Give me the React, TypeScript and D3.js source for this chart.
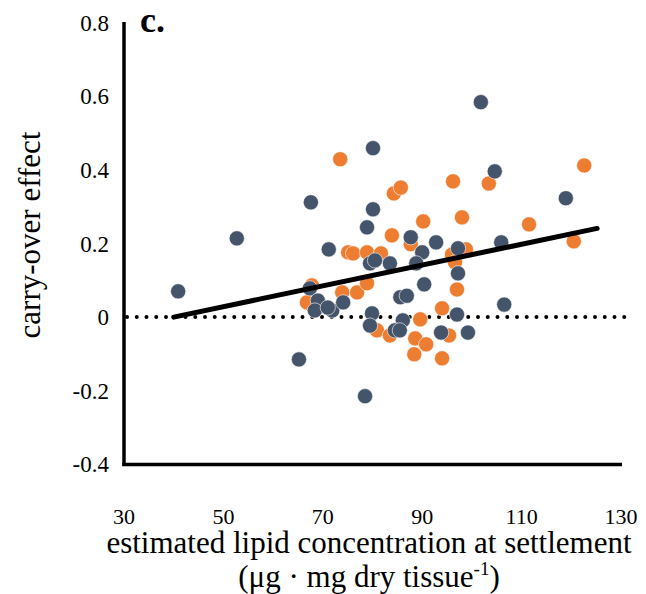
import React from "react";
import * as d3 from "d3";

const xTicks = [30, 50, 70, 90, 110, 130];
const yTicks = [-0.4, -0.2, 0, 0.2, 0.4, 0.6, 0.8];

// orange series [lipid, carry-over effect]
const orangeX = [73.5, 84.3, 85.7, 96.2, 103.4, 122.6, 90.2, 98.0, 111.5, 120.5, 83.9, 87.7, 98.8, 96.0, 96.6, 97.0, 94.0, 89.6, 75.1, 76.1, 78.9, 81.7, 67.8, 66.8, 76.9, 78.9, 73.9, 80.9, 83.5, 88.6, 90.8, 88.4, 94.0, 95.4];
const orangeY = [0.429, 0.336, 0.352, 0.369, 0.363, 0.412, 0.26, 0.271, 0.252, 0.206, 0.222, 0.198, 0.184, 0.17, 0.149, 0.075, 0.024, -0.006, 0.176, 0.173, 0.176, 0.173, 0.086, 0.04, 0.067, 0.092, 0.067, -0.036, -0.05, -0.058, -0.074, -0.101, -0.112, -0.05];

// blue series
const blueX = [40.9, 52.7, 65.2, 67.6, 80.1, 80.1, 78.9, 71.2, 78.5, 101.8, 104.6, 118.9, 105.9, 106.5, 99.2, 93.8, 97.0, 97.2, 97.2, 92.8, 87.7, 90.0, 88.8, 83.5, 90.4, 85.6, 86.9, 86.1, 84.5, 85.5, 67.4, 69.0, 68.4, 71.9, 74.1, 79.5, 80.5, 79.9, 79.5, 71.0];
const blueY = [0.07, 0.214, -0.115, 0.312, 0.459, 0.293, 0.244, 0.184, -0.215, 0.584, 0.396, 0.323, 0.203, 0.034, -0.042, -0.042, 0.007, 0.119, 0.187, 0.203, 0.217, 0.176, 0.146, 0.146, 0.089, 0.054, 0.058, -0.009, -0.036, -0.036, 0.078, 0.045, 0.018, 0.018, 0.04, 0.146, 0.154, 0.01, -0.023, 0.026];

const trendX = [40, 125.2];
const trendY = [0.0, 0.241];

const ORANGE = "#ED7D31";
const BLUE = "#44546A";

export default function App() {
  const W = 646, H = 594;
  const x = d3.scaleLinear().domain([30, 130]).range([124, 621]);
  const y = d3.scaleLinear().domain([-0.4, 0.8]).range([464.3, 22.7]);
  const font = "'Liberation Serif', 'Times New Roman', serif";
  const line = d3.line<number>().x((d, i) => x(trendX[i])).y((d, i) => y(trendY[i]));

  return (
    <svg width={W} height={H} style={{ position: "absolute", left: 0, top: 0, background: "#fff", fontFamily: font }}>
      <rect width={W} height={H} fill="#fff" />
      {/* zero dotted line */}
      <line x1={x(30) + 3} x2={x(130) + 4} y1={y(0)} y2={y(0)} stroke="#000" strokeWidth={4} strokeLinecap="round" strokeDasharray="0 9.75" />
      {/* points */}
      {orangeX.map((v, i) => (
        <circle key={"o" + i} cx={x(v)} cy={y(orangeY[i])} r={7.6} fill={ORANGE} stroke="#fff" strokeWidth={0.6} />
      ))}
      {blueX.map((v, i) => (
        <circle key={"b" + i} cx={x(v)} cy={y(blueY[i])} r={7.6} fill={BLUE} stroke="#fff" strokeWidth={0.6} />
      ))}
      {/* trend line */}
      <path d={line(trendX) || ""} stroke="#000" strokeWidth={5} fill="none" strokeLinecap="round" />
      {/* axes */}
      <line x1={124} x2={124} y1={22} y2={466} stroke="#000" strokeWidth={3.5} />
      <line x1={122.3} x2={622} y1={464.5} y2={464.5} stroke="#000" strokeWidth={3.5} />
      {yTicks.map((t) => (
        <text key={"y" + t} x={109} y={y(t) + 8} textAnchor="end" fontSize={23}>
          {t === 0 ? "0" : t.toFixed(1)}
        </text>
      ))}
      {xTicks.map((t) => (
        <text key={"x" + t} x={x(t)} y={524} textAnchor="middle" fontSize={22}>
          {t}
        </text>
      ))}
      <text x={140} y={32} fontSize={36} fontWeight="bold">c.</text>
      <text transform={`translate(40,235) rotate(-90)`} textAnchor="middle" fontSize={31}>carry-over effect</text>
      <text x={369} y={553} textAnchor="middle" fontSize={31}>estimated lipid concentration at settlement</text>
      <text x={369} y={587} textAnchor="middle" fontSize={31}>
        (μg · mg dry tissue<tspan fontSize={19} dy={-12}>-1</tspan><tspan dy={12}>)</tspan>
      </text>
    </svg>
  );
}
